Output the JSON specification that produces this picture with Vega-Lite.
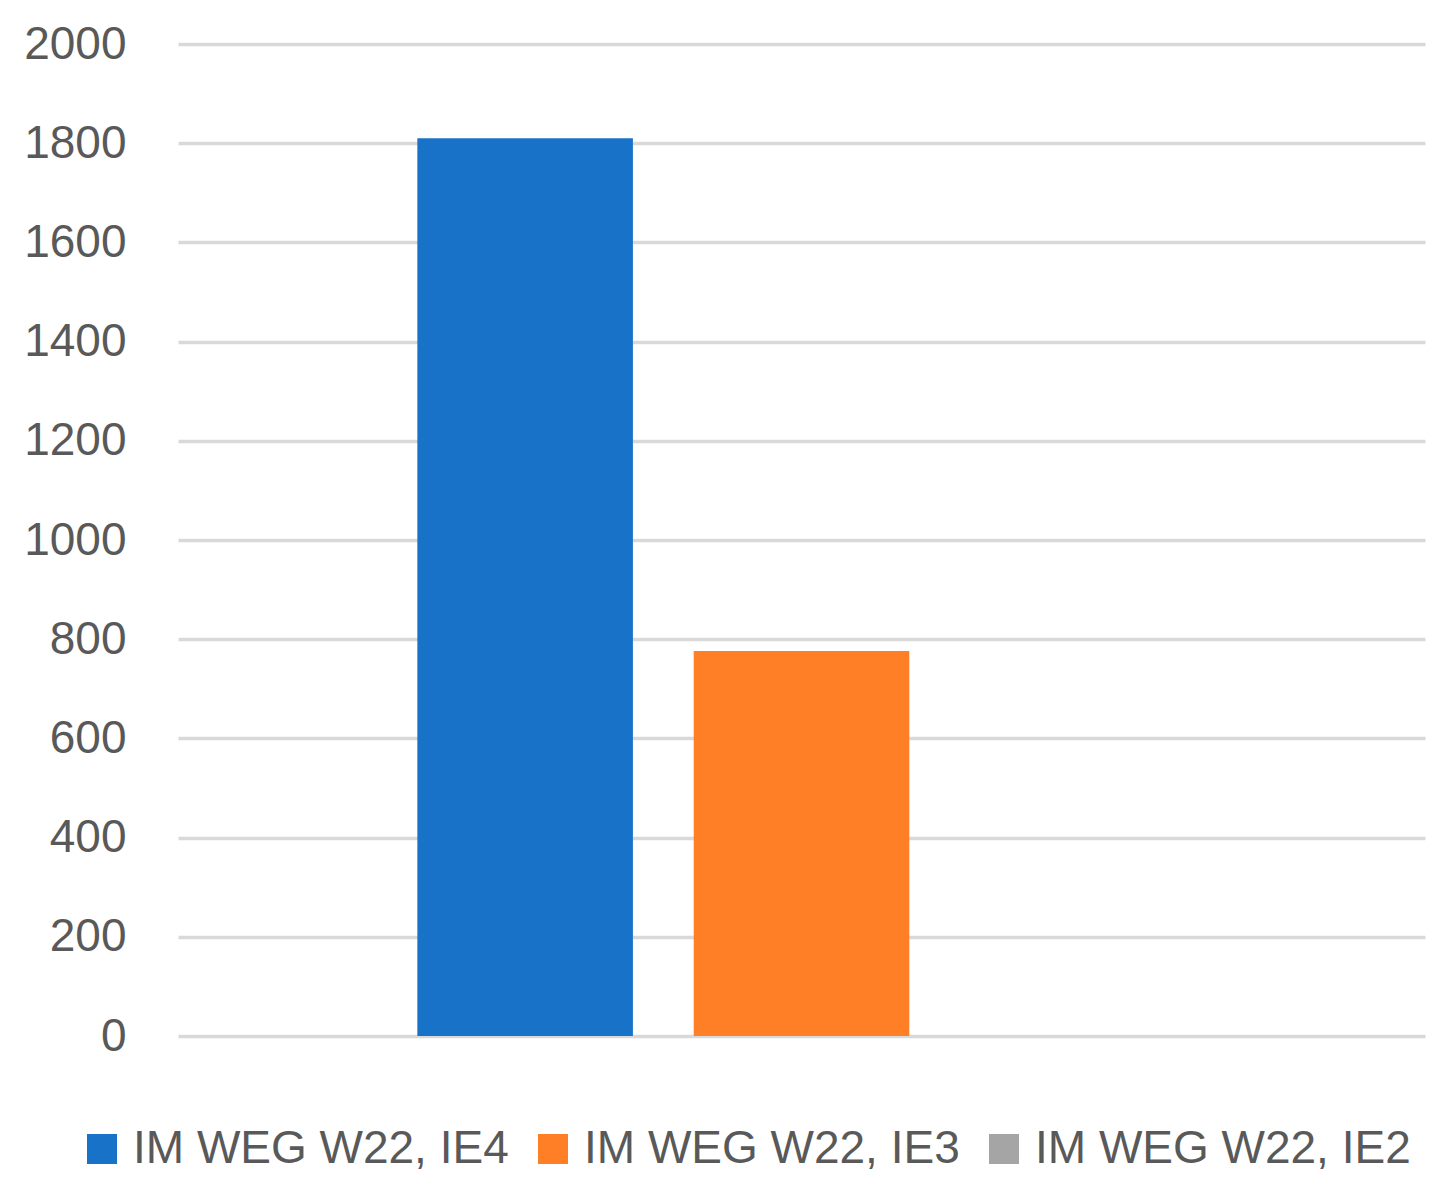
{
  "$schema": "https://vega.github.io/schema/vega-lite/v6.json",
  "width": 1247,
  "height": 992,
  "autosize": {"type": "none"},
  "padding": {"left": 178, "top": 44, "right": 24, "bottom": 159},
  "background": "white",
  "data": {
    "values": [
      {"series": "IM WEG W22, IE4", "value": 1810},
      {"series": "IM WEG W22, IE3", "value": 776},
      {"series": "IM WEG W22, IE2", "value": 0}
    ]
  },
  "mark": {"type": "bar"},
  "encoding": {
    "x": {
      "field": "series",
      "type": "nominal",
      "sort": ["IM WEG W22, IE4", "IM WEG W22, IE3", "IM WEG W22, IE2"],
      "scale": {"paddingInner": 0.22, "paddingOuter": 0.866},
      "axis": null
    },
    "y": {
      "field": "value",
      "type": "quantitative",
      "scale": {"domain": [0, 2000], "nice": false},
      "axis": {
        "values": [0, 200, 400, 600, 800, 1000, 1200, 1400, 1600, 1800, 2000],
        "format": "d",
        "title": null,
        "domain": false,
        "ticks": false,
        "labelPadding": 52,
        "labelFont": "Liberation Sans",
        "labelFontSize": 46,
        "labelColor": "#595959",
        "gridColor": "#d9d9d9",
        "gridWidth": 3.5
      }
    },
    "color": {
      "field": "series",
      "type": "nominal",
      "sort": ["IM WEG W22, IE4", "IM WEG W22, IE3", "IM WEG W22, IE2"],
      "scale": {
        "domain": ["IM WEG W22, IE4", "IM WEG W22, IE3", "IM WEG W22, IE2"],
        "range": ["#1873C8", "#FF7F27", "#A5A5A5"]
      },
      "legend": {
        "title": null,
        "orient": "none",
        "direction": "horizontal",
        "legendX": -99,
        "legendY": 1082,
        "symbolType": "square",
        "symbolSize": 900,
        "symbolStrokeWidth": 0,
        "labelFont": "Liberation Sans",
        "labelFontSize": 46,
        "labelColor": "#595959",
        "labelOffset": 8,
        "columnPadding": 21,
        "labelLimit": 600
      }
    }
  },
  "config": {"view": {"stroke": null}}
}
